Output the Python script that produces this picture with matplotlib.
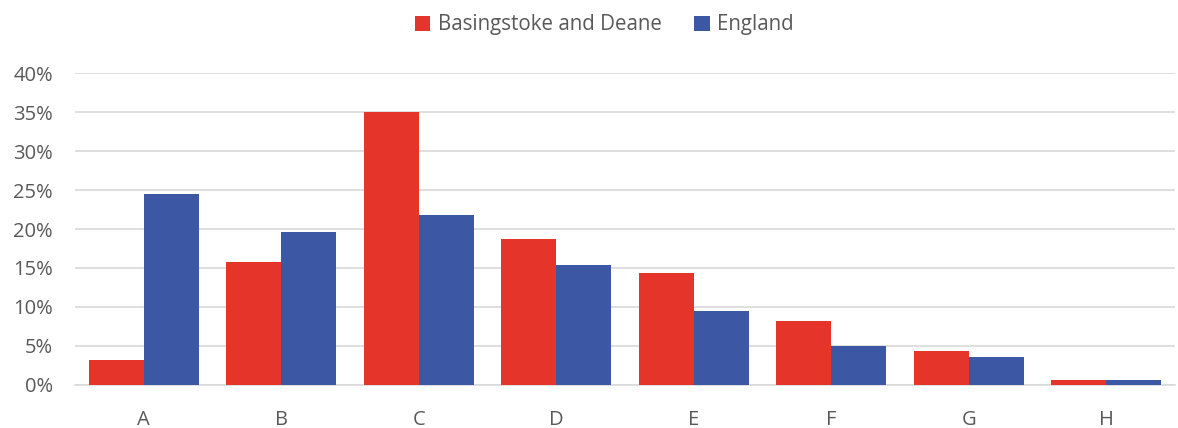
import matplotlib
matplotlib.use("Agg")
import matplotlib.pyplot as plt
import numpy as np

categories = ["A", "B", "C", "D", "E", "F", "G", "H"]
basingstoke = [3.2, 15.8, 35.0, 18.7, 14.4, 8.2, 4.4, 0.6]
england = [24.5, 19.6, 21.8, 15.4, 9.5, 5.0, 3.6, 0.6]

red = "#E5352A"
blue = "#3C58A4"
text_col = "#595959"

plt.rcParams["font.family"] = ["Open Sans", "DejaVu Sans"]

fig = plt.figure(figsize=(11.78, 4.28), dpi=100)
ax = fig.add_axes([0.0637, 0.1005, 0.9338, 0.7289])

x = np.arange(len(categories))
w = 0.4
ax.bar(x - w / 2, basingstoke, w, color=red, label="Basingstoke and Deane", zorder=3)
ax.bar(x + w / 2, england, w, color=blue, label="England", zorder=3)

ax.set_xlim(-0.5, len(categories) - 0.5)
ax.set_ylim(0, 40)
ax.set_yticks(range(0, 41, 5))
ax.set_yticklabels([f"{v}%" for v in range(0, 41, 5)])
ax.set_xticks(x)
ax.set_xticklabels(categories)
ax.yaxis.grid(True, color="#D9D9D9", linewidth=1.2, zorder=0)
for s in ["top", "right", "left"]:
    ax.spines[s].set_visible(False)
ax.spines["bottom"].set_color("#D9D9D9")
ax.spines["bottom"].set_linewidth(1.2)
ax.tick_params(axis="both", length=0, labelsize=14.5, colors=text_col)
ax.tick_params(axis="x", pad=18)
ax.tick_params(axis="y", pad=16)

fig.legend(loc="upper center", bbox_to_anchor=(0.513, 1.01), ncol=2, frameon=False,
           fontsize=14.8, labelcolor=text_col, handlelength=0.75, handleheight=0.75,
           handletextpad=0.35, columnspacing=1.6)

fig.savefig("out.png", dpi=100)
